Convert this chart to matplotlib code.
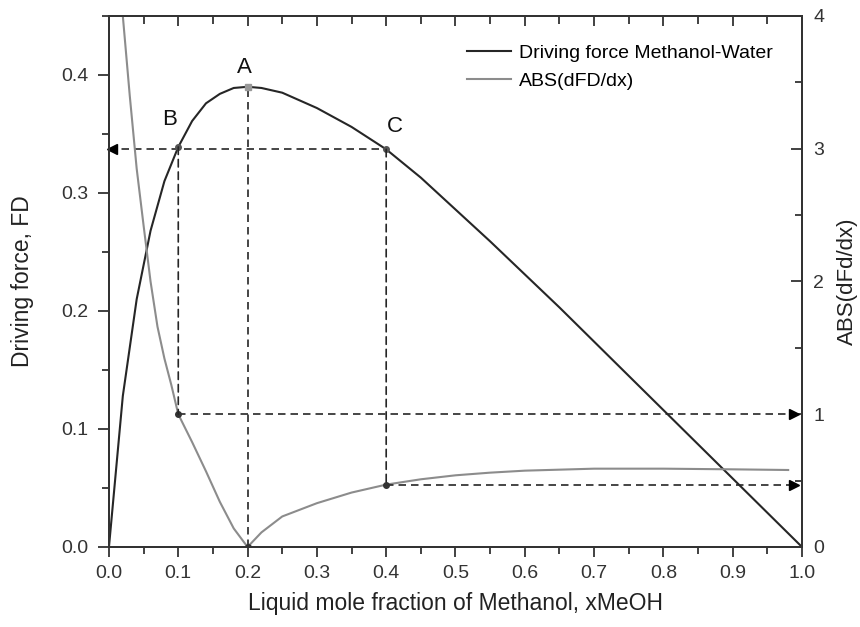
"""Driving force (FD) of methanol-water and its slope ABS(dFD/dx) vs liquid mole fraction."""

import matplotlib
matplotlib.use("Agg")
import matplotlib.pyplot as plt
from matplotlib.patches import ConnectionPatch
from matplotlib.ticker import MultipleLocator, NullFormatter

# driving force curve, left axis
x_fd = [0.0, 0.02, 0.04, 0.06, 0.08, 0.10, 0.12, 0.14, 0.16, 0.18, 0.20, 0.22, 0.25,
        0.30, 0.35, 0.40, 0.45, 0.50, 0.55, 0.60, 0.65, 0.70, 0.75, 0.80, 0.85, 0.90, 0.95, 1.0]
fd = [0.0, 0.128, 0.21, 0.268, 0.31, 0.339, 0.361, 0.376, 0.384, 0.389, 0.390, 0.389, 0.385,
      0.372, 0.356, 0.337, 0.313, 0.286, 0.259, 0.231, 0.203, 0.174, 0.145, 0.116, 0.087, 0.058, 0.029, 0.0]

# ABS(dFD/dx) curve, right axis
x_abs = [0.01, 0.02, 0.03, 0.04, 0.05, 0.06, 0.07, 0.08, 0.09, 0.10, 0.12, 0.14, 0.16, 0.18, 0.20,
         0.22, 0.25, 0.30, 0.35, 0.40, 0.45, 0.50, 0.55, 0.60, 0.70, 0.80, 0.90, 0.98]
abs_d = [4.6, 4.0, 3.4, 2.85, 2.42, 2.0, 1.66, 1.42, 1.22, 1.0, 0.79, 0.57, 0.34, 0.14, 0.0,
         0.11, 0.23, 0.33, 0.41, 0.47, 0.51, 0.54, 0.56, 0.575, 0.59, 0.59, 0.585, 0.58]

# marked points: label, x, FD value, ABS value
pt_labels = ["B", "A", "C"]
pt_x = [0.1, 0.2, 0.4]
pt_fd = [0.339, 0.390, 0.337]
pt_abs = [1.0, 0.0, 0.47]

plt.rcParams["font.family"] = ["Liberation Sans", "DejaVu Sans"]
dark = "#262626"
grey = "#8c8c8c"
axc = "#333333"
dash = (0, (4.5, 3))

fig = plt.figure(figsize=(8.6, 6.27), dpi=100)
ax = fig.add_axes([0.1267, 0.1276, 0.8059, 0.8469])
ax2 = ax.twinx()

ax.plot(x_fd, fd, color=dark, lw=1.5, label="Driving force Methanol-Water")
ax2.plot(x_abs, abs_d, color=grey, lw=1.5, label="ABS(dFD/dx)")

ax.set_xlim(0, 1.0)
ax.set_ylim(0, 0.45)
ax2.set_ylim(0, 4)

# dashed guide lines
ax.plot([0, pt_x[2]], [pt_fd[2], pt_fd[2]], color=dark, lw=1.2, ls=dash, clip_on=False)
ax.plot([0.005], [pt_fd[2]], marker="<", color="black", ms=7, clip_on=False, zorder=5)
ax.plot([pt_x[1], pt_x[1]], [0, pt_fd[1]], color=dark, lw=1.2, ls=dash)
for i in (0, 2):
    ax2.plot([pt_x[i], 0.985], [pt_abs[i], pt_abs[i]], color=dark, lw=1.2, ls=dash)
    ax2.plot([0.988], [pt_abs[i]], marker=">", color="black", ms=7, zorder=5)
    con = ConnectionPatch(xyA=(pt_x[i], pt_fd[i]), coordsA=ax.transData,
                          xyB=(pt_x[i], pt_abs[i]), coordsB=ax2.transData,
                          color=dark, lw=1.2, linestyle=dash)
    fig.add_artist(con)

# point markers
ax.plot([pt_x[0], pt_x[2]], [pt_fd[0], pt_fd[2]], "o", color="#555555", ms=4, zorder=4)
ax.plot([pt_x[1]], [pt_fd[1]], "s", color="#999999", ms=4, zorder=4)
ax2.plot(pt_x, pt_abs, "o", color="#333333", ms=4, zorder=4)
label_off = [(-0.012, 0.023), (-0.005, 0.016), (0.013, 0.019)]
for lab, xx, yy, (dx, dy) in zip(pt_labels, pt_x, pt_fd, label_off):
    ax.text(xx + dx, yy + dy, lab, fontsize=16, ha="center", va="center", color="#111111")

# axes styling
for a in (ax, ax2):
    for s in a.spines.values():
        s.set_linewidth(1.4)
        s.set_color(axc)
ax.xaxis.set_major_locator(MultipleLocator(0.1))
ax.xaxis.set_minor_locator(MultipleLocator(0.05))
ax.yaxis.set_major_locator(MultipleLocator(0.1))
ax.yaxis.set_minor_locator(MultipleLocator(0.05))
ax2.yaxis.set_major_locator(MultipleLocator(1))
ax2.yaxis.set_minor_locator(MultipleLocator(0.5))
ax.xaxis.set_major_formatter(plt.FuncFormatter(lambda v, p: f"{v:.1f}"))
ax.yaxis.set_major_formatter(plt.FuncFormatter(lambda v, p: f"{v:.1f}"))

ax.tick_params(axis="x", which="both", direction="out", labelsize=14, colors=axc, pad=6)
ax.tick_params(axis="x", which="major", length=7, width=1.3)
ax.tick_params(axis="x", which="minor", length=5, width=1.3)
ax.tick_params(axis="y", which="both", direction="out", labelsize=14, colors=axc, pad=7)
ax.tick_params(axis="y", which="major", length=8, width=1.3)
ax.tick_params(axis="y", which="minor", length=5, width=1.3)
ax2.tick_params(axis="y", which="both", direction="in", labelsize=14, colors=axc, pad=8)
ax2.tick_params(axis="y", which="major", length=8, width=1.3)
ax2.tick_params(axis="y", which="minor", length=5, width=1.3)

# top axis: ticks point inward, no labels
top = ax.secondary_xaxis("top")
top.xaxis.set_major_locator(MultipleLocator(0.1))
top.xaxis.set_minor_locator(MultipleLocator(0.05))
top.xaxis.set_major_formatter(NullFormatter())
top.tick_params(axis="x", which="both", direction="in", colors=axc, width=1.3)
top.tick_params(axis="x", which="major", length=7)
top.tick_params(axis="x", which="minor", length=6)
top.spines["top"].set_linewidth(1.4)
top.spines["top"].set_color(axc)

ax.set_xlabel("Liquid mole fraction of Methanol, xMeOH", fontsize=16.5, color="#222222", labelpad=7)
ax.set_ylabel("Driving force, FD", fontsize=16.5, color="#222222", labelpad=19)
ax2.set_ylabel("ABS(dFd/dx)", fontsize=16, color="#222222", labelpad=9)

h1, l1 = ax.get_legend_handles_labels()
h2, l2 = ax2.get_legend_handles_labels()
ax2.legend(h1 + h2, l1 + l2, loc="upper left", bbox_to_anchor=(0.505, 0.962), frameon=False,
           fontsize=14, handlelength=2.3, labelspacing=0.55, handletextpad=0.4,
           borderaxespad=0, borderpad=0.4)

fig.savefig("out.png", dpi=100)
plt.close()
